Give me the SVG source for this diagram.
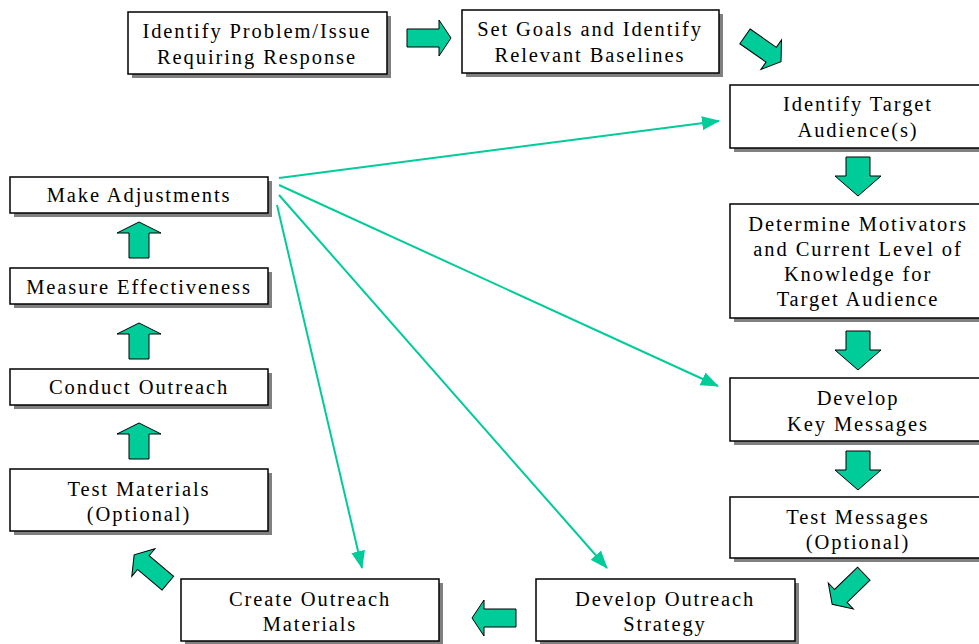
<svg xmlns="http://www.w3.org/2000/svg" width="979" height="644" viewBox="0 0 979 644">
<style>
.box{fill:#fff;stroke:#000;stroke-width:1.5}
.sh{fill:#808080}
.t{font-family:"Liberation Serif","Times New Roman",serif;font-size:20.5px;letter-spacing:1.9px;text-anchor:middle;fill:#000}
.ba{fill:#00CC99;stroke:#000;stroke-width:1}
.ln{stroke:#00CC99;stroke-width:2;fill:none}
</style>
<defs>
<path id="ah" d="M-22,-9 H10 V-18 L22,0 L10,18 V9 H-22 Z"/>
<path id="av" d="M-12,-19 H12 V0 H23 L0,20 L-23,0 H-12 Z"/>
<path id="au" d="M-10,18 V-7 H-22 L0,-18 L22,-7 H10 V18 Z"/>
<marker id="m" viewBox="0 0 18 14" refX="17" refY="7" markerWidth="18" markerHeight="14" markerUnits="userSpaceOnUse" orient="auto">
<path d="M0,0 L18,7 L0,14 Z" fill="#00CC99"/>
</marker>
</defs>
<rect width="979" height="644" fill="#fff"/>

<g id="connectors">
<line class="ln" x1="279" y1="178" x2="719" y2="121" marker-end="url(#m)"/>
<line class="ln" x1="279" y1="185" x2="718" y2="386" marker-end="url(#m)"/>
<line class="ln" x1="279" y1="195" x2="607" y2="568" marker-end="url(#m)"/>
<line class="ln" x1="277" y1="205" x2="362" y2="568" marker-end="url(#m)"/>
<use href="#ah" class="ba" transform="translate(429,38)"/>
<use href="#ah" class="ba" transform="translate(763,49) rotate(35)"/>
<use href="#av" class="ba" transform="translate(858,176)"/>
<use href="#av" class="ba" transform="translate(858,350)"/>
<use href="#av" class="ba" transform="translate(858,470)"/>
<use href="#ah" class="ba" transform="translate(848,589) rotate(136)"/>
<use href="#ah" class="ba" transform="translate(494,618) rotate(180)"/>
<use href="#ah" class="ba" transform="translate(151,569) rotate(220)"/>
<use href="#au" class="ba" transform="translate(139,240)"/>
<use href="#au" class="ba" transform="translate(139,341)"/>
<use href="#au" class="ba" transform="translate(139,441)"/>
</g>

<g id="n1"><rect class="sh" x="132" y="16" width="259" height="62"/><rect class="box" x="128" y="12" width="259" height="62"/>
<text class="t" x="257" y="38">Identify Problem/Issue</text><text class="t" x="257" y="64">Requiring Response</text></g>
<g id="n2"><rect class="sh" x="466" y="14" width="257" height="63"/><rect class="box" x="462" y="10" width="257" height="63"/>
<text class="t" x="590" y="36">Set Goals and Identify</text><text class="t" x="590" y="62">Relevant Baselines</text></g>
<g id="n3"><rect class="sh" x="734" y="89" width="250" height="63"/><rect class="box" x="730" y="85" width="250" height="63"/>
<text class="t" x="858" y="111">Identify Target</text><text class="t" x="858" y="137">Audience(s)</text></g>
<g id="n4"><rect class="sh" x="734" y="208" width="250" height="114"/><rect class="box" x="730" y="204" width="250" height="114"/>
<text class="t" x="858" y="231">Determine Motivators</text><text class="t" x="858" y="256">and Current Level of</text><text class="t" x="858" y="281">Knowledge for</text><text class="t" x="858" y="306">Target Audience</text></g>
<g id="n5"><rect class="sh" x="734" y="382" width="250" height="63"/><rect class="box" x="730" y="378" width="250" height="63"/>
<text class="t" x="858" y="405">Develop</text><text class="t" x="858" y="431">Key Messages</text></g>
<g id="n6"><rect class="sh" x="734" y="501" width="250" height="61"/><rect class="box" x="730" y="497" width="250" height="61"/>
<text class="t" x="858" y="524">Test Messages</text><text class="t" x="858" y="549">(Optional)</text></g>
<g id="n7"><rect class="sh" x="540" y="583" width="259" height="62"/><rect class="box" x="536" y="579" width="259" height="62"/>
<text class="t" x="665" y="606">Develop Outreach</text><text class="t" x="665" y="631">Strategy</text></g>
<g id="n8"><rect class="sh" x="185" y="583" width="258" height="62"/><rect class="box" x="181" y="579" width="258" height="62"/>
<text class="t" x="310" y="606">Create Outreach</text><text class="t" x="310" y="631">Materials</text></g>
<g id="n9"><rect class="sh" x="14" y="473" width="258" height="62"/><rect class="box" x="10" y="469" width="258" height="62"/>
<text class="t" x="139" y="496">Test Materials</text><text class="t" x="139" y="521">(Optional)</text></g>
<g id="n10"><rect class="sh" x="14" y="373" width="258" height="36"/><rect class="box" x="10" y="369" width="258" height="36"/>
<text class="t" x="139" y="394">Conduct Outreach</text></g>
<g id="n11"><rect class="sh" x="14" y="272" width="258" height="36"/><rect class="box" x="10" y="268" width="258" height="36"/>
<text class="t" x="139" y="294">Measure Effectiveness</text></g>
<g id="n12"><rect class="sh" x="14" y="181" width="258" height="36"/><rect class="box" x="10" y="177" width="258" height="36"/>
<text class="t" x="139" y="202">Make Adjustments</text></g>
</svg>
